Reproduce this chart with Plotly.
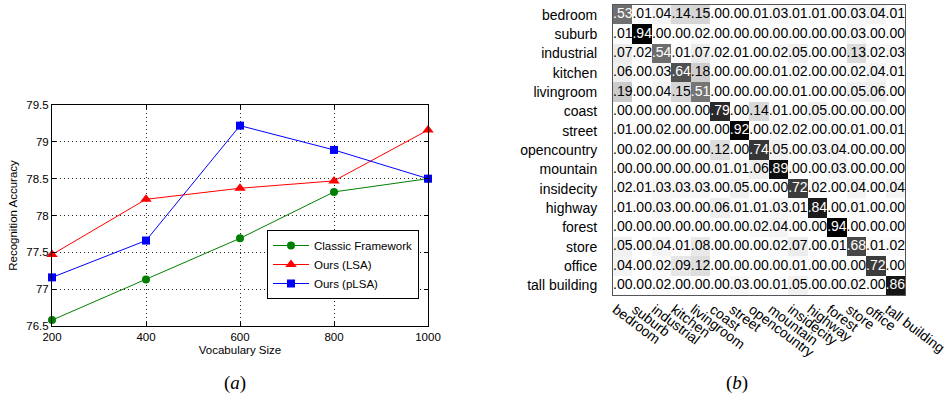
import plotly.graph_objects as go

# ---------------- data: panel (a) ----------------
vocab_sizes = [200, 400, 600, 800, 1000]
acc_classic = [76.58, 77.13, 77.69, 78.32, 78.50]
acc_lsa = [77.47, 78.22, 78.37, 78.47, 79.16]
acc_plsa = [77.16, 77.66, 79.22, 78.89, 78.50]
y_ticks = [76.5, 77, 77.5, 78, 78.5, 79, 79.5]

# ---------------- data: panel (b) ----------------
scene_classes = ["bedroom", "suburb", "industrial", "kitchen", "livingroom", "coast",
                 "street", "opencountry", "mountain", "insidecity", "highway", "forest",
                 "store", "office", "tall building"]
conf_rows = [
    [.53, .01, .04, .14, .15, .00, .00, .01, .03, .01, .01, .00, .03, .04, .01],
    [.01, .94, .00, .00, .02, .00, .00, .00, .00, .00, .00, .00, .03, .00, .00],
    [.07, .02, .54, .01, .07, .02, .01, .00, .02, .05, .00, .00, .13, .02, .03],
    [.06, .00, .03, .64, .18, .00, .00, .00, .01, .02, .00, .00, .02, .04, .01],
    [.19, .00, .04, .15, .51, .00, .00, .00, .00, .01, .00, .00, .05, .06, .00],
    [.00, .00, .00, .00, .00, .79, .00, .14, .01, .00, .05, .00, .00, .00, .00],
    [.01, .00, .02, .00, .00, .00, .92, .00, .02, .02, .00, .00, .01, .00, .01],
    [.00, .02, .00, .00, .00, .12, .00, .74, .05, .00, .03, .04, .00, .00, .00],
    [.00, .00, .00, .00, .00, .01, .01, .06, .89, .00, .00, .03, .00, .00, .00],
    [.02, .01, .03, .03, .03, .00, .05, .00, .00, .72, .02, .00, .04, .00, .04],
    [.01, .00, .03, .00, .00, .06, .01, .01, .03, .01, .84, .00, .01, .00, .00],
    [.00, .00, .00, .00, .00, .00, .00, .02, .04, .00, .00, .94, .00, .00, .00],
    [.05, .00, .04, .01, .08, .00, .00, .00, .02, .07, .00, .01, .68, .01, .02],
    [.04, .00, .02, .09, .12, .00, .00, .00, .00, .01, .00, .00, .00, .72, .00],
    [.00, .00, .02, .00, .00, .00, .03, .00, .01, .05, .00, .00, .02, .00, .86],
]

FONT = "Liberation Sans, Arial, Helvetica, sans-serif"
SERIF = "Liberation Serif, Times New Roman, serif"

fig = go.Figure()

# ---- panel (a): lines ----
series = [
    ("Classic Framework", acc_classic, "#008000", "circle", 8),
    ("Ours (LSA)", acc_lsa, "#ff0000", "triangle-up", 10),
    ("Ours (pLSA)", acc_plsa, "#0000ff", "square", 8),
]
for name, vals, col, sym, sz in series:
    fig.add_trace(go.Scatter(
        x=vocab_sizes, y=vals, name=name, mode="lines+markers",
        line=dict(color=col, width=1),
        marker=dict(symbol=sym, size=sz, color=col, line=dict(width=0)),
        cliponaxis=False, xaxis="x", yaxis="y",
    ))

# ---- panel (b): confusion matrix ----
zmax = max(max(r) for r in conf_rows)
fig.add_trace(go.Heatmap(
    z=conf_rows, x=scene_classes, y=scene_classes,
    colorscale=[[0, "#ffffff"], [1, "#000000"]], zmin=0, zmax=zmax,
    showscale=False, xaxis="x2", yaxis="y2", hoverinfo="skip",
))
tx, ty, tt, tc = [], [], [], []
for i, row in enumerate(conf_rows):
    for j, v in enumerate(row):
        tx.append(scene_classes[j])
        ty.append(scene_classes[i])
        tt.append(("%.2f" % v)[1:])
        tc.append("#ffffff" if v >= 0.5 else "#000000")
fig.add_trace(go.Scatter(
    x=tx, y=ty, text=tt, mode="text",
    textfont=dict(family=FONT, size=14, color=tc),
    showlegend=False, xaxis="x2", yaxis="y2", hoverinfo="skip",
))

W, H = 949, 395
ax_font = dict(family=FONT, size=11.5, color="#000000")

fig.update_layout(
    template="none",
    width=W, height=H,
    margin=dict(l=0, r=0, t=0, b=0, autoexpand=False),
    paper_bgcolor="white", plot_bgcolor="white",
    font=dict(family=FONT, color="#000000"),
    showlegend=True,
    legend=dict(
        x=267 / W, y=1 - 230 / H, xanchor="left", yanchor="top",
        bgcolor="white", bordercolor="#000000", borderwidth=1,
        font=dict(family=FONT, size=11.5, color="#000000"),
        tracegroupgap=0, itemwidth=36,
    ),
    xaxis=dict(
        domain=[52 / W, 428 / W], anchor="y", automargin=False,
        range=[200, 1000], tickvals=vocab_sizes,
        ticks="inside", ticklen=4, tickcolor="#000000",
        showline=True, linecolor="#000000", linewidth=1, mirror="ticks",
        showgrid=True, gridcolor="#222222", gridwidth=1, griddash="1px,3px",
        zeroline=False, tickfont=ax_font,
        title=dict(text="Vocabulary Size", font=ax_font, standoff=4),
    ),
    yaxis=dict(
        domain=[1 - 326 / H, 1 - 105 / H], anchor="x", automargin=False,
        range=[76.5, 79.5], tickvals=y_ticks,
        ticktext=[("%g" % v) for v in y_ticks],
        ticks="inside", ticklen=4, tickcolor="#000000",
        showline=True, linecolor="#000000", linewidth=1, mirror="ticks",
        showgrid=True, gridcolor="#222222", gridwidth=1, griddash="1px,3px",
        zeroline=False, tickfont=ax_font,
        title=dict(text="Recognition Accuracy", font=ax_font, standoff=6),
    ),
    xaxis2=dict(
        domain=[613 / W, 905 / W], anchor="y2", automargin=False,
        type="category", categoryarray=scene_classes,
        tickangle=37, ticklabelshift=-7, ticks="", showgrid=False, zeroline=False,
        showline=True, linecolor="#555555", linewidth=1, mirror=True,
        tickfont=dict(family=FONT, size=14, color="#000000"),
        range=[-0.5, len(scene_classes) - 0.5],
    ),
    yaxis2=dict(
        domain=[1 - 295 / H, 1 - 5 / H], anchor="x2", automargin=False,
        type="category", categoryarray=scene_classes,
        autorange=False, range=[len(scene_classes) - 0.5, -0.5],
        ticks="", showgrid=False, zeroline=False,
        showline=True, linecolor="#555555", linewidth=1, mirror=True,
        tickfont=dict(family=FONT, size=14, color="#000000"),
        ticklabelstandoff=12,
    ),
    annotations=[
        dict(text="(<i>a</i>)", x=235 / W, y=1 - 383 / H, xref="paper", yref="paper",
             xanchor="center", yanchor="middle",
             showarrow=False, font=dict(family=SERIF, size=19, color="#000000")),
        dict(text="(<i>b</i>)", x=737 / W, y=1 - 383 / H, xref="paper", yref="paper",
             xanchor="center", yanchor="middle",
             showarrow=False, font=dict(family=SERIF, size=19, color="#000000")),
    ],
)

fig.write_html("out.html", config={"displayModeBar": False},
               post_script="document.body.style.margin='0px';")
